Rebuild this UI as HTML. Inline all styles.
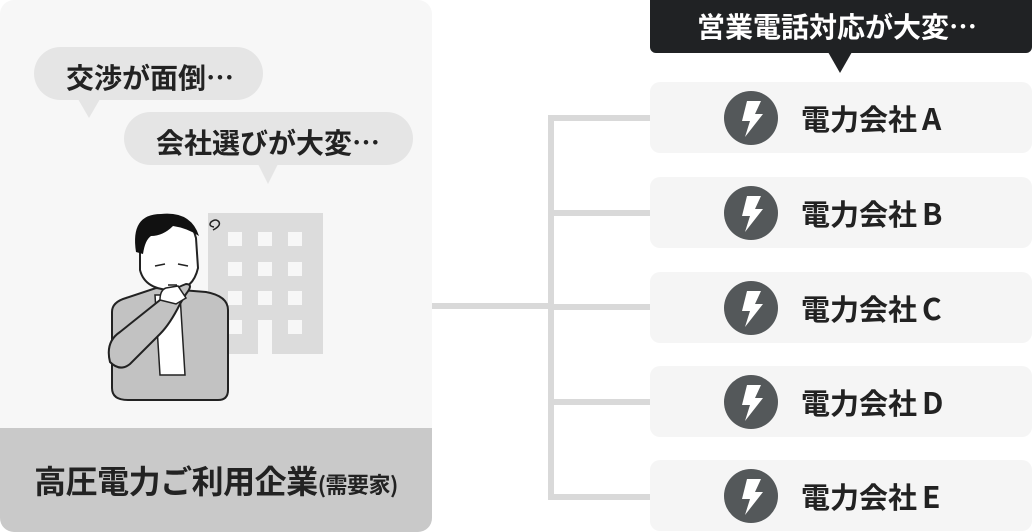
<!DOCTYPE html>
<html><head><meta charset="utf-8"><style>
body{margin:0;width:1032px;height:532px;background:#fff;position:relative;overflow:hidden;font-family:"Noto Sans CJK JP","Liberation Sans",sans-serif;font-weight:bold;color:#222}
.abs{position:absolute}
.card{position:absolute;left:650px;width:382px;height:71px;background:#f5f5f5;border-radius:10px}
.card .ic{position:absolute;left:74px;top:9px;width:54px;height:54px;border-radius:50%;background:#54585a}
.card .t{position:absolute;left:151px;top:0;line-height:71px;font-size:29px;color:#222}
.card .t span{margin-left:5px;font-size:30px}
.line{position:absolute;background:#d9d9d9}
</style></head><body>
<div class="abs" style="left:0;top:0;width:432px;height:532px;background:#f7f7f7;border-radius:14px;overflow:hidden">
  <div class="abs" style="left:0;top:428px;width:432px;height:104px;background:#c9c9c9"></div>
  <div class="abs" style="left:0;top:428px;width:432px;line-height:104px;text-align:center;font-size:32px;color:#222;letter-spacing:-0.5px">高圧電力ご利用企業<span style="font-size:22px">(需要家)</span></div>
</div>
<svg class="abs" style="left:0;top:0" width="432" height="420">
  <rect x="34" y="47" width="229" height="53" rx="26.5" fill="#e5e5e5"/>
  <polygon points="78,99 100,99 89,118" fill="#e5e5e5"/>
  <rect x="124" y="112" width="289" height="53" rx="26.5" fill="#e5e5e5"/>
  <polygon points="258,164 278,164 268,184" fill="#e5e5e5"/>
  <text x="150" y="88" font-size="28" text-anchor="middle" fill="#222" font-weight="bold" font-family="Noto Sans CJK JP, sans-serif">交渉が面倒⋯</text>
  <text x="268" y="153" font-size="28" text-anchor="middle" fill="#222" font-weight="bold" font-family="Noto Sans CJK JP, sans-serif">会社選びが大変⋯</text>
  <rect x="208" y="213" width="115" height="141" fill="#dcdcdc"/>
  <g fill="#f7f7f7">
    <rect x="228" y="232" width="14" height="14"/><rect x="258" y="232" width="14" height="14"/><rect x="288" y="232" width="14" height="14"/>
    <rect x="228" y="262" width="14" height="14"/><rect x="258" y="262" width="14" height="14"/><rect x="288" y="262" width="14" height="14"/>
    <rect x="228" y="291" width="14" height="14"/><rect x="258" y="291" width="14" height="14"/><rect x="288" y="291" width="14" height="14"/>
    <rect x="228" y="320" width="14" height="14"/><rect x="288" y="320" width="14" height="14"/><rect x="258" y="320" width="14" height="34"/>
  </g>
  <path d="M213,230 q8,-4 6,-8 q-3,-4 -8,0 q-3,4 3,5" fill="none" stroke="#222" stroke-width="1.5"/>
  <path d="M112,312 q0,-10 14,-14 l30,-10 l50,4 q22,4 22,18 l0,80 q0,10 -10,10 l-90,0 q-16,0 -16,-12z" fill="#c2c2c2" stroke="#222" stroke-width="2"/>
  <path d="M155,295 l25,0 l5,80 l-25,0z" fill="#fff" stroke="#222" stroke-width="1.5"/>
  <path d="M140,250 q0,-30 20,-32 q30,-5 36,20 l2,30 q-5,22 -25,22 q-28,0 -33,-20z" fill="#fff" stroke="#222" stroke-width="2"/>
  <path d="M136,252 q-6,-38 25,-38 q30,-3 38,22 q-12,-8 -26,-10 q-10,10 -22,10 q-6,4 -8,18 z" fill="#111"/>
  <path d="M155,266 l10,-2 M178,264 l10,2 M168,285 l9,0" stroke="#222" stroke-width="1.6" fill="none"/>
  <path d="M160,300 q10,-10 26,-16 q8,0 0,10 l-6,10 q-10,20 -20,30 l-30,30 q-10,8 -20,-2 q-5,-20 10,-30z" fill="#c2c2c2" stroke="#222" stroke-width="2"/>
  <path d="M160,300 q0,-10 6,-12 l12,-2 l8,12 l-10,6z" fill="#fff" stroke="#222" stroke-width="1.5"/>
</svg>
<div class="line" style="left:432px;top:303px;width:122px;height:6px"></div>
<div class="line" style="left:548px;top:115px;width:6px;height:385px"></div>
<div class="line" style="left:548px;top:115px;width:102px;height:6px"></div>
<div class="line" style="left:548px;top:210px;width:102px;height:6px"></div>
<div class="line" style="left:548px;top:304px;width:102px;height:6px"></div>
<div class="line" style="left:548px;top:399px;width:102px;height:6px"></div>
<div class="line" style="left:548px;top:494px;width:102px;height:6px"></div>
<div class="abs" style="left:650px;top:0;width:382px;height:53px;background:#202224;border-radius:0 0 6px 6px;color:#fff;font-size:28px;line-height:53px;text-align:center;text-indent:-8px">営業電話対応が大変⋯</div>
<svg class="abs" style="left:828px;top:52px" width="24" height="22"><polygon points="0,0 24,0 12,21" fill="#202224"/></svg>
<div class="card" style="top:82px"><div class="ic"></div><div class="t">電力会社<span>A</span></div></div>
<div class="card" style="top:177px"><div class="ic"></div><div class="t">電力会社<span>B</span></div></div>
<div class="card" style="top:272px"><div class="ic"></div><div class="t">電力会社<span>C</span></div></div>
<div class="card" style="top:366px"><div class="ic"></div><div class="t">電力会社<span>D</span></div></div>
<div class="card" style="top:460px"><div class="ic"></div><div class="t">電力会社<span>E</span></div></div>
<svg class="abs" style="left:0;top:0" width="1032" height="532">
  <defs><path id="bolt" d="M-4,-17 L10,-17 L4,-4 L12,-4 L-6,19 L-1,3 L-9,3 Z" fill="#fff"/></defs>
  <use href="#bolt" x="751" y="118"/>
  <use href="#bolt" x="751" y="213"/>
  <use href="#bolt" x="751" y="308"/>
  <use href="#bolt" x="751" y="402"/>
  <use href="#bolt" x="751" y="496"/>
</svg>
</body></html>
